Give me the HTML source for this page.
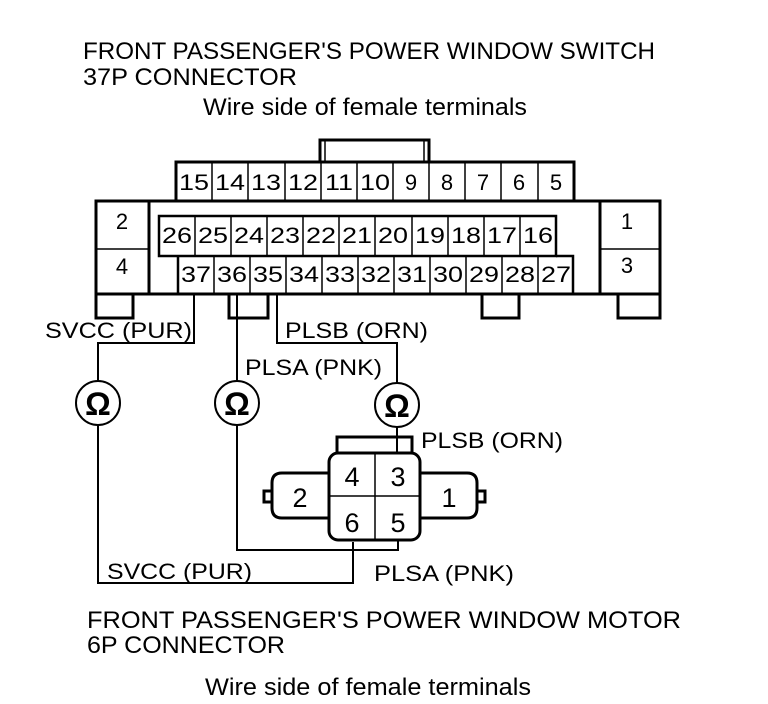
<!DOCTYPE html>
<html><head><meta charset="utf-8"><style>
html,body{margin:0;padding:0;background:#fff;}
svg{display:block;}
text{font-family:"Liberation Sans",Arial,sans-serif;fill:#000;}
</style></head><body>
<svg width="768" height="704" viewBox="0 0 768 704" xmlns="http://www.w3.org/2000/svg">
<g font-size="24">
<text x="83" y="59" textLength="572" lengthAdjust="spacingAndGlyphs">FRONT PASSENGER'S POWER WINDOW SWITCH</text>
<text x="83" y="85" textLength="214" lengthAdjust="spacingAndGlyphs">37P CONNECTOR</text>
<text x="203" y="115" textLength="324" lengthAdjust="spacingAndGlyphs">Wire side of female terminals</text>
<text x="87" y="628" textLength="594" lengthAdjust="spacingAndGlyphs">FRONT PASSENGER'S POWER WINDOW MOTOR</text>
<text x="87" y="653" textLength="198" lengthAdjust="spacingAndGlyphs">6P CONNECTOR</text>
<text x="205" y="695" textLength="326" lengthAdjust="spacingAndGlyphs">Wire side of female terminals</text>
</g>
<g fill="none" stroke="#000" stroke-width="3">
<path d="M320 162 V140 H429 V162"/>
<path d="M176 201 V162 H574 V201"/>
<rect x="96" y="201" width="504" height="93"/>
<rect x="96" y="201" width="53" height="93"/>
<rect x="600" y="201" width="60" height="93"/>
<path d="M96 294 V318 H133 V294"/>
<path d="M229 294 V318 H268 V294"/>
<path d="M482 294 V318 H519 V294"/>
<path d="M618 294 V318 H660 V294"/>
<path d="M325 140 V162 M424 140 V162" stroke-width="1.5"/>
<rect x="159" y="216" width="397" height="40" stroke-width="2.5"/>
<path d="M178 256 V294 M556 256 H573 V294" stroke-width="2.5"/>
</g>
<g stroke="#000" stroke-width="1.5">
<line x1="96" y1="249" x2="149" y2="249"/>
<line x1="600" y1="249" x2="660" y2="249"/>
<line x1="212" y1="162" x2="212" y2="201"/><line x1="248" y1="162" x2="248" y2="201"/><line x1="285" y1="162" x2="285" y2="201"/><line x1="321" y1="162" x2="321" y2="201"/><line x1="357" y1="162" x2="357" y2="201"/><line x1="393" y1="162" x2="393" y2="201"/><line x1="429" y1="162" x2="429" y2="201"/><line x1="465" y1="162" x2="465" y2="201"/><line x1="501" y1="162" x2="501" y2="201"/><line x1="538" y1="162" x2="538" y2="201"/>
<line x1="195" y1="216" x2="195" y2="256"/><line x1="231" y1="216" x2="231" y2="256"/><line x1="267" y1="216" x2="267" y2="256"/><line x1="303" y1="216" x2="303" y2="256"/><line x1="339" y1="216" x2="339" y2="256"/><line x1="375" y1="216" x2="375" y2="256"/><line x1="412" y1="216" x2="412" y2="256"/><line x1="448" y1="216" x2="448" y2="256"/><line x1="484" y1="216" x2="484" y2="256"/><line x1="520" y1="216" x2="520" y2="256"/>
<line x1="214" y1="256" x2="214" y2="294"/><line x1="250" y1="256" x2="250" y2="294"/><line x1="286" y1="256" x2="286" y2="294"/><line x1="322" y1="256" x2="322" y2="294"/><line x1="358" y1="256" x2="358" y2="294"/><line x1="394" y1="256" x2="394" y2="294"/><line x1="430" y1="256" x2="430" y2="294"/><line x1="466" y1="256" x2="466" y2="294"/><line x1="502" y1="256" x2="502" y2="294"/><line x1="538" y1="256" x2="538" y2="294"/>
</g>
<g font-size="22" text-anchor="middle">
<text x="122" y="229">2</text><text x="122" y="274">4</text>
<text x="627" y="229">1</text><text x="627" y="273">3</text>
<text x="194" y="190" textLength="30" lengthAdjust="spacingAndGlyphs">15</text><text x="230" y="190" textLength="30" lengthAdjust="spacingAndGlyphs">14</text><text x="266" y="190" textLength="30" lengthAdjust="spacingAndGlyphs">13</text><text x="303" y="190" textLength="30" lengthAdjust="spacingAndGlyphs">12</text><text x="339" y="190" textLength="28" lengthAdjust="spacingAndGlyphs">11</text><text x="375" y="190" textLength="30" lengthAdjust="spacingAndGlyphs">10</text><text x="411" y="190">9</text><text x="447" y="190">8</text><text x="483" y="190">7</text><text x="519" y="190">6</text><text x="556" y="190">5</text>
<text x="177" y="243" textLength="30" lengthAdjust="spacingAndGlyphs">26</text><text x="213" y="243" textLength="30" lengthAdjust="spacingAndGlyphs">25</text><text x="249" y="243" textLength="30" lengthAdjust="spacingAndGlyphs">24</text><text x="285" y="243" textLength="30" lengthAdjust="spacingAndGlyphs">23</text><text x="321" y="243" textLength="30" lengthAdjust="spacingAndGlyphs">22</text><text x="357" y="243" textLength="30" lengthAdjust="spacingAndGlyphs">21</text><text x="393" y="243" textLength="30" lengthAdjust="spacingAndGlyphs">20</text><text x="430" y="243" textLength="30" lengthAdjust="spacingAndGlyphs">19</text><text x="466" y="243" textLength="30" lengthAdjust="spacingAndGlyphs">18</text><text x="502" y="243" textLength="30" lengthAdjust="spacingAndGlyphs">17</text><text x="538" y="243" textLength="30" lengthAdjust="spacingAndGlyphs">16</text>
<text x="196" y="282" textLength="30" lengthAdjust="spacingAndGlyphs">37</text><text x="232" y="282" textLength="30" lengthAdjust="spacingAndGlyphs">36</text><text x="268" y="282" textLength="30" lengthAdjust="spacingAndGlyphs">35</text><text x="304" y="282" textLength="30" lengthAdjust="spacingAndGlyphs">34</text><text x="340" y="282" textLength="30" lengthAdjust="spacingAndGlyphs">33</text><text x="376" y="282" textLength="30" lengthAdjust="spacingAndGlyphs">32</text><text x="412" y="282" textLength="30" lengthAdjust="spacingAndGlyphs">31</text><text x="448" y="282" textLength="30" lengthAdjust="spacingAndGlyphs">30</text><text x="484" y="282" textLength="30" lengthAdjust="spacingAndGlyphs">29</text><text x="520" y="282" textLength="30" lengthAdjust="spacingAndGlyphs">28</text><text x="556" y="282" textLength="30" lengthAdjust="spacingAndGlyphs">27</text>
</g>
<g fill="none" stroke="#000" stroke-width="2">
<path d="M194 294 V343 H98 V381"/>
<path d="M98 425 V583 H353 V542"/>
<path d="M237 294 V381"/>
<path d="M237 425 V550 H398 V540"/>
<path d="M277 294 V343 H397 V383"/>
<path d="M397 427 V452"/>
<circle cx="98" cy="403" r="22"/>
<circle cx="237" cy="403" r="22"/>
<circle cx="397" cy="405" r="22"/>
</g>
<g font-size="32" text-anchor="middle" font-weight="bold">
<text x="98" y="415">Ω</text><text x="237" y="415">Ω</text><text x="397" y="417">Ω</text>
</g>
<g fill="none" stroke="#000" stroke-width="3">
<path d="M337 453 V437 H412 V453"/>
<rect x="329" y="453" width="91" height="87" rx="9"/>
<path d="M329 473 H282 Q272 473 272 483 V508 Q272 518 282 518 H329"/>
<path d="M420 473 H467 Q477 473 477 483 V508 Q477 518 467 518 H420"/>
<rect x="264" y="491" width="8" height="11"/>
<rect x="477" y="491" width="8" height="11"/>
</g>
<g stroke="#000" stroke-width="1.5">
<line x1="375" y1="453" x2="375" y2="540"/><line x1="329" y1="496" x2="420" y2="496"/>
</g>
<g font-size="27" text-anchor="middle">
<text x="352" y="486">4</text><text x="398" y="486">3</text>
<text x="352" y="532">6</text><text x="398" y="532">5</text>
<text x="300" y="507">2</text><text x="449" y="507">1</text>
</g>
<g font-size="22">
<text x="45" y="338" textLength="147" lengthAdjust="spacingAndGlyphs">SVCC (PUR)</text>
<text x="285" y="338" textLength="143" lengthAdjust="spacingAndGlyphs">PLSB (ORN)</text>
<text x="245" y="375" textLength="137" lengthAdjust="spacingAndGlyphs">PLSA (PNK)</text>
<text x="421" y="448" textLength="142" lengthAdjust="spacingAndGlyphs">PLSB (ORN)</text>
<text x="107" y="579" textLength="145" lengthAdjust="spacingAndGlyphs">SVCC (PUR)</text>
<text x="374" y="581" textLength="140" lengthAdjust="spacingAndGlyphs">PLSA (PNK)</text>
</g>
</svg>
</body></html>
